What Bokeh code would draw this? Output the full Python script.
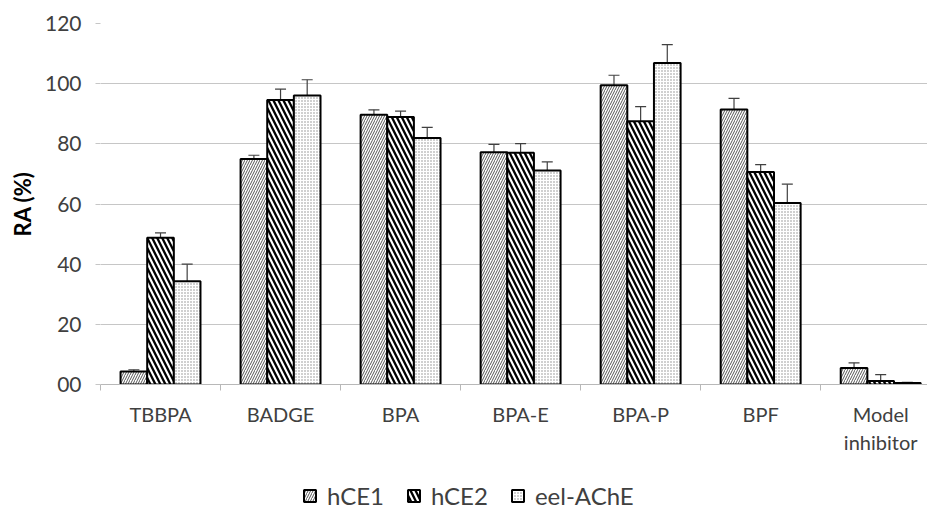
from bokeh.plotting import figure
from bokeh.models import (Range1d, FixedTicker, Whisker, TeeHead, ColumnDataSource,
                          Legend, LegendItem)
from bokeh.layouts import column
from bokeh.embed import file_html
from bokeh.resources import INLINE

categories = ["TBBPA", "BADGE", "BPA", "BPA-E", "BPA-P", "BPF", "Model\ninhibitor"]
series = ["hCE1", "hCE2", "eel-AChE"]
hce1 = [4.3, 75.0, 89.7, 77.2, 99.5, 91.4, 5.5]
hce1_sd = [0.6, 1.2, 1.6, 2.6, 3.3, 3.7, 1.7]
hce2 = [48.8, 94.6, 88.9, 77.0, 87.5, 70.6, 1.2]
hce2_sd = [1.6, 3.6, 2.0, 3.1, 4.9, 2.5, 2.1]
eel = [34.3, 96.1, 81.9, 71.1, 106.9, 60.3, 0.5]
eel_sd = [5.7, 5.2, 3.6, 2.9, 6.1, 6.3, 0.2]
y_ticks = [0, 20, 40, 60, 80, 100, 120]
y_tick_labels = ["00", "20", "40", "60", "80", "100", "120"]

FONT = "Lato"
TXT = "#404040"

p = figure(width=927, height=470, output_backend="svg", toolbar_location=None,
           x_range=Range1d(0, 6.89), y_range=Range1d(0, 120),
           min_border_left=100, min_border_right=0, min_border_top=23,
           min_border_bottom=86)
p.outline_line_color = None
p.background_fill_color = "white"
p.border_fill_color = "white"

# grid
p.xgrid.grid_line_color = None
p.ygrid.grid_line_color = "#c6c6c6"
p.ygrid.grid_line_width = 1.2
p.ygrid.ticker = FixedTicker(ticks=y_ticks)

# y axis
p.yaxis.ticker = FixedTicker(ticks=y_ticks)
p.yaxis.major_label_overrides = {t: l for t, l in zip(y_ticks, y_tick_labels)}
p.yaxis.axis_line_color = None
p.yaxis.major_tick_out = 5
p.yaxis.major_tick_in = 0
p.yaxis.major_tick_line_color = "#c6c6c6"
p.yaxis.minor_tick_line_color = None
p.yaxis.major_label_standoff = 14
p.yaxis.major_label_text_font = FONT
p.yaxis.major_label_text_font_size = "21px"
p.yaxis.major_label_text_color = TXT
p.yaxis.axis_label = "RA (%)"
p.yaxis.axis_label_text_font = FONT
p.yaxis.axis_label_text_font_style = "bold"
p.yaxis.axis_label_text_font_size = "22px"
p.yaxis.axis_label_text_color = "black"
p.yaxis.axis_label_standoff = 6

# x axis
centers = [i + 0.5 for i in range(len(categories))]
bounds = list(range(len(categories) + 1))
p.xaxis.ticker = FixedTicker(ticks=centers, minor_ticks=bounds)
p.xaxis.major_label_overrides = {c: l for c, l in zip(centers, categories)}
p.xaxis.axis_line_color = "#b8b8b8"
p.xaxis.axis_line_width = 1.2
p.xaxis.major_tick_line_color = None
p.xaxis.major_tick_out = 0
p.xaxis.major_tick_in = 0
p.xaxis.minor_tick_line_color = "#b8b8b8"
p.xaxis.minor_tick_out = 6
p.xaxis.minor_tick_in = 0
p.xaxis.major_label_standoff = 11
p.xaxis.major_label_text_font = FONT
p.xaxis.major_label_text_font_size = "20px"
p.xaxis.major_label_text_color = TXT
p.xaxis.major_label_text_line_height = 1.2

bw = 0.222
offsets = [-bw, 0.0, bw]
vals = [hce1, hce2, eel]
sds = [hce1_sd, hce2_sd, eel_sd]
bar_style = dict(fill_color="white", line_color="black", line_width=2)
hatches = [dict(hatch_pattern="/", hatch_scale=5, hatch_weight=1.0, hatch_color="#555555"),
           dict(hatch_pattern="\\", hatch_scale=10, hatch_weight=2.3, hatch_color="black"),
           dict(hatch_pattern=".", hatch_scale=3, hatch_weight=1.0, hatch_color="#888888")]

for name, v, sd, off, h in zip(series, vals, sds, offsets, hatches):
    xs = [c + off for c in centers]
    src = ColumnDataSource(dict(x=xs, top=v, upper=[a + b for a, b in zip(v, sd)]))
    p.vbar(x="x", top="top", bottom=0, width=bw, source=src, **bar_style, **h)
    w = Whisker(base="x", upper="upper", lower="top", source=src,
                line_color="#404040", line_width=1.2,
                upper_head=TeeHead(size=11, line_color="#404040", line_width=1.2),
                lower_head=None)
    p.add_layout(w)

# legend strip below the chart; its small proxy bars sit hidden under the
# legend's opaque white box
lg = figure(width=927, height=40, output_backend="svg", toolbar_location=None,
            x_range=Range1d(0, 1), y_range=Range1d(0, 1),
            x_axis_type=None, y_axis_type=None,
            min_border_left=0, min_border_right=0, min_border_top=0, min_border_bottom=0)
lg.outline_line_color = None
lg.xgrid.grid_line_color = None
lg.ygrid.grid_line_color = None
items = []
for name, h in zip(series, hatches):
    r = lg.vbar(x=[0.45], bottom=[0.3], top=[0.45], width=0.008, **bar_style, **h)
    items.append(LegendItem(label=name, renderers=[r]))
legend = Legend(items=items, orientation="horizontal", location=(202, 0),
                label_text_font=FONT, label_text_font_size="24px",
                label_text_color=TXT, glyph_width=15, glyph_height=15,
                label_standoff=10, spacing=22, padding=0, margin=0,
                border_line_color=None, background_fill_color="white",
                background_fill_alpha=1.0)
lg.add_layout(legend, "center")

layout = column(p, lg, spacing=0)
open("out.html", "w").write(file_html(layout, INLINE))
